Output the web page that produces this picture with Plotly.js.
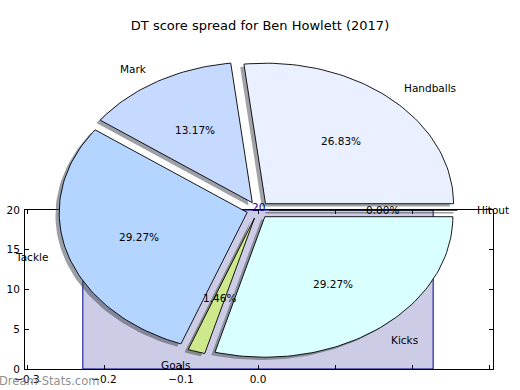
<!DOCTYPE html>
<html>
<head>
<meta charset="utf-8">
<script src="https://cdn.plot.ly/plotly-3.0.1.min.js"></script>
<style>html,body{margin:0;padding:0;background:#fff;}#chart{width:520px;height:390px;}</style>
</head>
<body>
<div id="chart"></div>
<script>
// ---- data ----
const labels = ['Handballs', 'Mark', 'Tackle', 'Goals', 'Kicks', 'Hitout'];
const counts = [55, 27, 60, 3, 60, 0];
const sliceColors = ['#EAF0FF', '#C6D9FF', '#B3D5FF', '#CDE98C', '#D9FFFF', '#FFFFFF'];
const barX = [0];
const barValues = [20];
const xTickVals = [-0.3, -0.2, -0.1, 0.0, 0.1, 0.2, 0.3];
const xTickText = ['\u22120.3', '\u22120.2', '\u22120.1', '0.0', '', '', ''];
const yTickVals = [0, 5, 10, 15, 20];
const chartTitle = 'DT score spread for Ben Howlett (2017)';
const watermark = 'Dream-Stats.com';

// ---- pie styling (matplotlib-like) ----
const explode = 0.06, shadowOff = 0.02, labelDist = 1.1, pctDist = 0.6;
const FONT = 'DejaVu Sans, sans-serif';

const total = counts.reduce((a, b) => a + b, 0);
const traces = [];
traces.push({
  type: 'bar', x: barX, y: barValues, width: 0.455,
  marker: {color: '#CCCCE6', line: {color: '#00008B', width: 1}},
  xaxis: 'x', yaxis: 'y', hoverinfo: 'skip', showlegend: false
});

function shade(hex) {
  const r = parseInt(hex.substr(1, 2), 16), g = parseInt(hex.substr(3, 2), 16), b = parseInt(hex.substr(5, 2), 16);
  return 'rgba(' + Math.round(r * 0.3) + ',' + Math.round(g * 0.3) + ',' + Math.round(b * 0.3) + ',0.5)';
}

const wedges = [];
let cum = 0;
counts.forEach((c, i) => {
  const f = c / total;
  const t1 = cum * 2 * Math.PI, t2 = (cum + f) * 2 * Math.PI;
  cum += f;
  const tm = (t1 + t2) / 2;
  const cx = explode * Math.cos(tm), cy = explode * Math.sin(tm);
  const xs = [cx], ys = [cy];
  const n = Math.max(1, Math.ceil((t2 - t1) / (2 * Math.PI) * 240));
  for (let k = 0; k <= n; k++) {
    const t = t1 + (t2 - t1) * k / n;
    xs.push(cx + Math.cos(t)); ys.push(cy + Math.sin(t));
  }
  xs.push(cx); ys.push(cy);
  wedges.push({i, xs, ys, tm, cx, cy, f});
});

// shadows first
wedges.forEach(w => {
  traces.push({
    type: 'scatter', mode: 'lines', xaxis: 'x2', yaxis: 'y2',
    x: w.xs.map(v => v - shadowOff), y: w.ys.map(v => v - shadowOff),
    fill: 'toself', fillcolor: shade(sliceColors[w.i]),
    line: {color: w.f === 0 ? 'rgba(60,60,60,0.5)' : 'rgba(0,0,0,0)', width: w.f === 0 ? 1.5 : 0},
    hoverinfo: 'skip', showlegend: false
  });
});
wedges.forEach(w => {
  traces.push({
    type: 'scatter', mode: 'lines', xaxis: 'x2', yaxis: 'y2',
    x: w.xs, y: w.ys, fill: 'toself', fillcolor: sliceColors[w.i],
    line: {color: '#000', width: 0.9},
    hoverinfo: 'skip', showlegend: false
  });
});

const annotations = [];
wedges.forEach(w => {
  const c = Math.cos(w.tm), s = Math.sin(w.tm);
  annotations.push({
    xref: 'x2', yref: 'y2', x: w.cx + labelDist * c, y: w.cy + labelDist * s,
    text: labels[w.i], showarrow: false, xanchor: c >= 0 ? 'left' : 'right', yanchor: 'middle',
    font: {family: FONT, size: 10.5, color: '#000'}, borderpad: 0
  });
  annotations.push({
    xref: 'x2', yref: 'y2', x: w.cx + pctDist * c, y: w.cy + pctDist * s,
    text: (w.f * 100).toFixed(2) + '%', showarrow: false, xanchor: 'center', yanchor: 'middle',
    font: {family: FONT, size: 10.5, color: '#000'}, borderpad: 0
  });
});
annotations.push({
  xref: 'x', yref: 'y', x: barX[0], y: barValues[0], text: String(barValues[0]),
  showarrow: false, xanchor: 'center', yanchor: 'bottom', yshift: -4,
  font: {family: FONT, size: 10.5, color: '#00008B'}, borderpad: 0
});
annotations.push({
  xref: 'paper', yref: 'paper', x: -0.003, y: 9 / 390, text: watermark,
  showarrow: false, xanchor: 'left', yanchor: 'middle',
  font: {family: FONT, size: 11.5, color: 'rgba(120,120,120,0.85)'}, borderpad: 0
});

const axLine = {showline: true, linecolor: '#000', linewidth: 1, mirror: 'ticks',
  ticks: 'inside', ticklen: 4, tickcolor: '#000', showgrid: false, zeroline: false,
  tickfont: {family: FONT, size: 10.5, color: '#000'}, fixedrange: true};

const layout = {
  width: 520, height: 390,
  margin: {l: 0, r: 0, t: 0, b: 0},
  paper_bgcolor: '#fff', plot_bgcolor: 'rgba(0,0,0,0)',
  showlegend: false,
  title: {text: chartTitle, x: 0.5, xanchor: 'center', y: 1 - 25 / 390, yanchor: 'middle',
    yref: 'container', xref: 'container', font: {family: FONT, size: 13, color: '#000'}},
  xaxis: Object.assign({}, axLine, {domain: [25 / 520, 493 / 520], range: [-0.3026, 0.3052],
    tickvals: xTickVals, ticktext: xTickText, anchor: 'y', ticklabelstandoff: 0}),
  yaxis: Object.assign({}, axLine, {domain: [21 / 390, 180 / 390], range: [0, 20],
    tickvals: yTickVals, anchor: 'x', ticklabelstandoff: 2}),
  xaxis2: {domain: [0, 1], range: [-258 / 188, 262 / 188], visible: false, anchor: 'y2', fixedrange: true},
  yaxis2: {domain: [0, 1], range: [-180 / 140.5, 210 / 140.5], visible: false, anchor: 'x2', fixedrange: true},
  annotations: annotations
};

Plotly.newPlot('chart', traces, layout, {staticPlot: true, displayModeBar: false});
</script>
</body>
</html>
